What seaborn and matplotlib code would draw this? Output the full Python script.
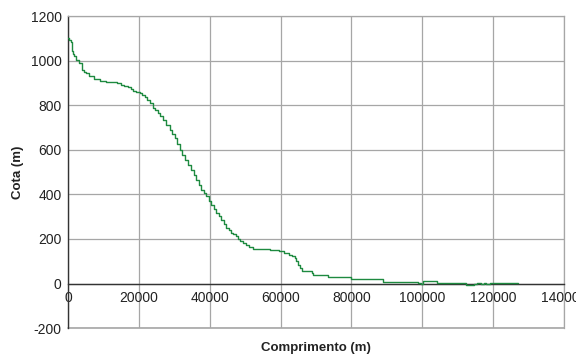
import numpy as np
import pandas as pd
import matplotlib
matplotlib.use("Agg")
import matplotlib.pyplot as plt
import seaborn as sns
from matplotlib.ticker import MultipleLocator

# Profile data (length in m, elevation in m)
comprimento = [0, 400, 800, 1130, 1500, 1690, 2250, 3190, 3850, 4400, 5070, 6000, 7320,
               9000, 10600, 12000, 13900, 15000, 15800, 17000, 17700, 18400, 19300,
               20300, 21000, 21700, 22400, 23100, 24000, 24700, 25400, 26100, 26850,
               27800, 28700, 29400, 30100, 30800, 31550, 32300, 33000, 33900, 34850,
               35500, 36250, 36900, 37650, 38400, 39100, 39800, 40500, 41200, 41900,
               42600, 43300, 44000, 44700, 45400, 46000, 46700, 47500, 48000, 48450,
               49400, 50300, 51200, 52200, 56900, 59700, 61100, 62500, 63300, 63950,
               64400, 64900, 65500, 66100, 68900, 69100, 73500, 79900, 88800, 98700,
               99600, 100100, 104300, 112500, 113500, 114500, 115500, 116500, 117500,
               118000, 119000, 121000, 127000]
cota = [1100, 1092, 1082, 1045, 1030, 1020, 1003, 988, 960, 950, 943, 930, 916,
        910, 906, 902, 898, 892, 886, 883, 872, 862, 858,
        854, 848, 839, 825, 810, 788, 778, 765, 750, 735,
        712, 690, 670, 652, 625, 600, 578, 555, 532, 510,
        488, 466, 443, 421, 405, 391, 372, 354, 335, 317,
        302, 287, 268, 249, 238, 228, 220, 212, 200, 190,
        182, 175, 163, 153, 150, 145, 137, 130, 122, 115,
        100, 85, 70, 58, 45, 38, 28, 21, 8, 2,
        0, 10, 2, -5, -8, -3, 2, -4, 3,
        -2, 2, 1, 1]

x_label = "Comprimento (m)"
y_label = "Cota (m)"

sns.set_theme(style="white")
plt.rcParams['font.family'] = ['Liberation Sans', 'DejaVu Sans']
plt.rcParams['axes.unicode_minus'] = False

df = pd.DataFrame({"Comprimento": comprimento, "Cota": cota})

fig, ax = plt.subplots(figsize=(5.76, 3.57), dpi=100)
fig.subplots_adjust(left=0.118, right=0.979, bottom=0.081, top=0.955)

grid_c = "#a6a6a6"
sns.lineplot(data=df, x="Comprimento", y="Cota", estimator=None, sort=True,
             drawstyle="steps-post", color="#1e8a40", lw=1.0, ax=ax, zorder=3)

ax.set_xlim(0, 140000)
ax.set_ylim(-200, 1200)
ax.xaxis.set_major_locator(MultipleLocator(20000))
ax.xaxis.set_minor_locator(MultipleLocator(10000))
ax.yaxis.set_major_locator(MultipleLocator(200))
ax.yaxis.set_minor_locator(MultipleLocator(100))

ax.grid(True, which="major", color=grid_c, lw=0.9)
ax.set_axisbelow(True)

ax.spines['bottom'].set_position(('data', 0))
ax.spines['bottom'].set_color("#333333")
ax.spines['left'].set_color("#333333")
ax.spines['bottom'].set_linewidth(1.0)
ax.spines['left'].set_linewidth(1.0)
ax.spines['top'].set_color(grid_c)
ax.spines['right'].set_color(grid_c)
ax.spines['top'].set_linewidth(0.9)
ax.spines['right'].set_linewidth(0.9)
ax.axhline(-200, color=grid_c, lw=1.2, clip_on=False, zorder=1)

ax.tick_params(axis='both', which='both', direction='inout', colors="#333333",
               labelcolor="#222222", labelsize=10, width=0.9)
ax.tick_params(axis='both', which='major', length=5)
ax.tick_params(axis='both', which='minor', length=5)
ax.tick_params(axis='x', pad=3)
ax.tick_params(axis='y', pad=2)

ax.set_xlabel(x_label, fontsize=9.5, fontweight='bold', color="#222222")
ax.set_ylabel(y_label, fontsize=9.5, fontweight='bold', color="#222222")
ax.xaxis.set_label_coords(0.5, -0.045)
ax.yaxis.set_label_coords(-0.088, 0.5)

fig.savefig("out.png", dpi=100)
